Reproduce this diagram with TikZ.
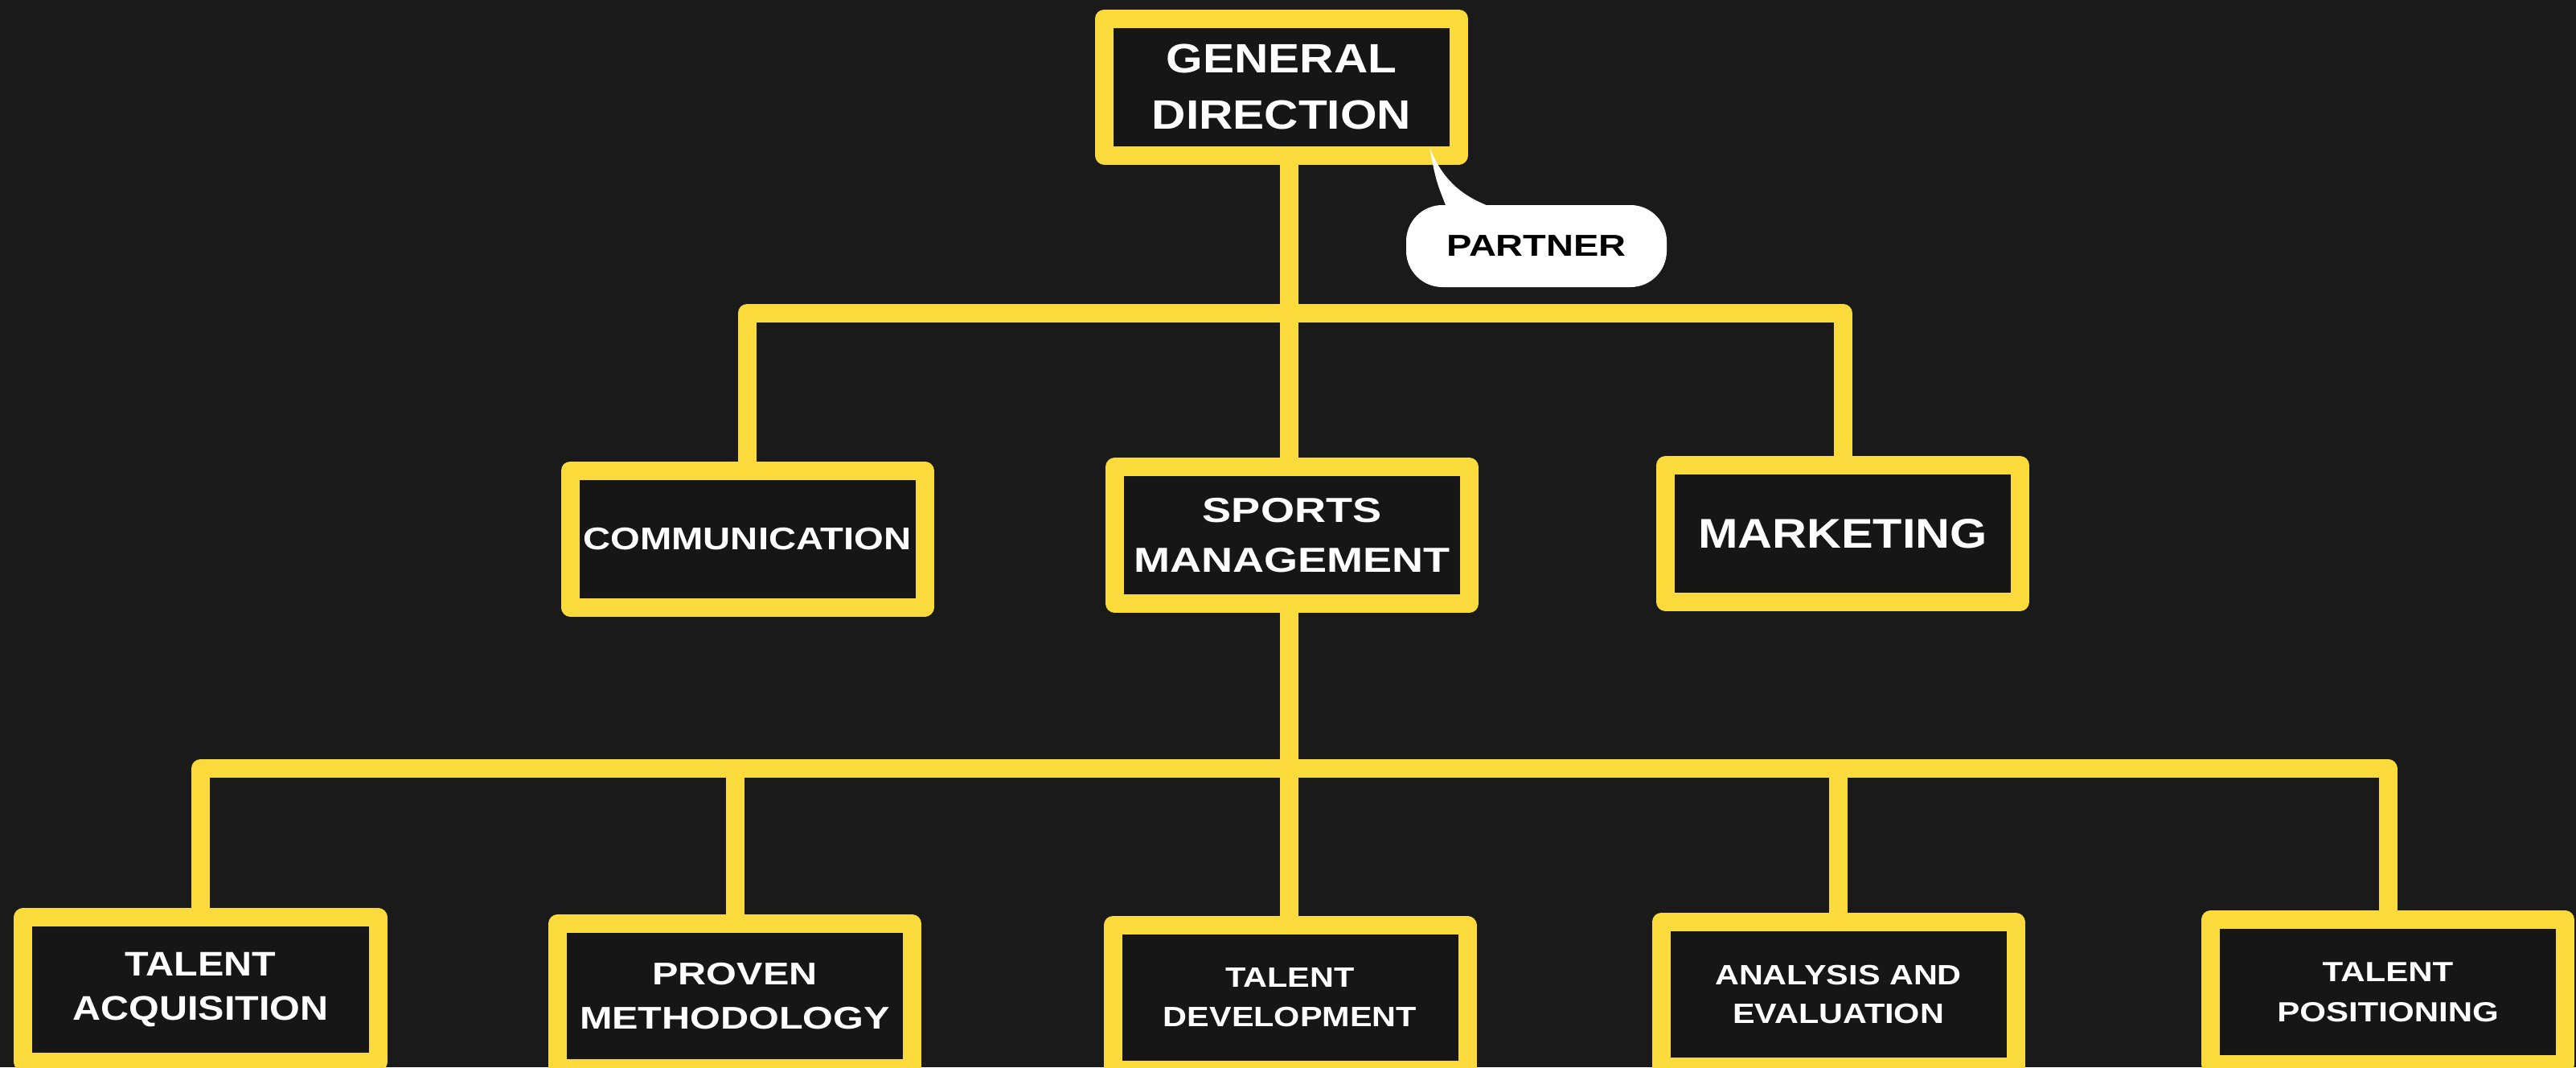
\documentclass[tikz,border=0pt]{standalone}
\usepackage{fontspec}
\usepackage{tikz}
\setmainfont{Liberation Sans}
\usetikzlibrary{positioning}
\definecolor{board}{HTML}{1A1A1A}
\definecolor{boardin}{HTML}{161616}
\definecolor{chalkyellow}{HTML}{FBDA3C}
\newcommand{\boardfont}[3]{\bfseries\fontsize{#1}{#2}\selectfont\addfontfeature{FakeStretch=#3}}
\tikzset{chalkbox/.style = {draw = chalkyellow, line width = 0.23cm, line join = round,
                            fill = boardin, minimum width = 4.41cm, minimum height = 1.70cm,
                            inner sep = 0, text = white, align = center}}
\tikzset{lowbox/.style = {chalkbox, minimum height = 1.80cm}}
\tikzset{wire/.style = {draw = chalkyellow, line width = 0.23cm, line join = round}}
\tikzset{bubble/.style = {fill = white, rounded corners = 0.45cm, minimum width = 3.24cm,
                          minimum height = 1.02cm, inner sep = 0, text = black}}

\begin{document}
\begin{tikzpicture}[y = -1cm]
    \fill [board] (0, 0) rectangle (32.04, 13.27);
    \useasboundingbox (0, 0) rectangle (32.04, 13.27);

    % top level
    \node [chalkbox, font = \boardfont{14.5}{19.9}{1.15}] (gd) at (15.94, 1.08) {GENERAL\\DIRECTION};

    % second level
    \node [chalkbox, font = \boardfont{11.1}{15}{1.21}] (comm) at (9.295, 6.70) {COMMUNICATION};
    \node [chalkbox, font = \boardfont{12.3}{17.6}{1.25}] (sm) at (16.07, 6.655) {SPORTS\\MANAGEMENT};
    \node [chalkbox, font = \boardfont{14.7}{19}{1.15}] (mkt) at (22.92, 6.635) {MARKETING};

    % third level
    \node [lowbox, font = \boardfont{12.1}{15.9}{1.14}] (ta) at (2.495, 12.305) {TALENT\\ACQUISITION};
    \node [lowbox, font = \boardfont{11.1}{15.6}{1.245}] (pm) at (9.14, 12.385) {PROVEN\\METHODOLOGY};
    \node [lowbox, font = \boardfont{9.9}{13.9}{1.19}] (td) at (16.045, 12.405) {TALENT\\DEVELOPMENT};
    \node [lowbox, font = \boardfont{9.9}{13.9}{1.19}] (ae) at (22.865, 12.365) {ANALYSIS AND\\EVALUATION};
    \node [lowbox, font = \boardfont{9.8}{14.2}{1.22}] (tp) at (29.70, 12.335) {TALENT\\POSITIONING};

    \coordinate (topbus) at (16.035, 3.89);
    \coordinate (lowbus) at (16.035, 9.555);

    \draw [wire] (gd.south -| topbus) -- (sm.north -| topbus);
    \draw [wire] (comm.north) -- (comm.north |- topbus) -- (mkt.north |- topbus) -- (mkt.north);

    \draw [wire] (sm.south -| lowbus) -- (td.north -| lowbus);
    \draw [wire] (ta.north) -- (ta.north |- lowbus) -- (tp.north |- lowbus) -- (tp.north);
    \foreach \n in {pm, ae}
        \draw [wire] (\n.north) -- (\n.north |- lowbus);

    % speech bubble
    \fill [white] (17.78, 1.83) .. controls (17.86, 2.25) .. (18.02, 2.65) -- (18.80, 2.65)
        .. controls (18.20, 2.50) and (17.95, 2.25) .. (17.78, 1.83) -- cycle;
    \node [bubble, font = \boardfont{10.7}{13}{1.25}] (partner) at (19.11, 3.06) {PARTNER};
\end{tikzpicture}
\end{document}
